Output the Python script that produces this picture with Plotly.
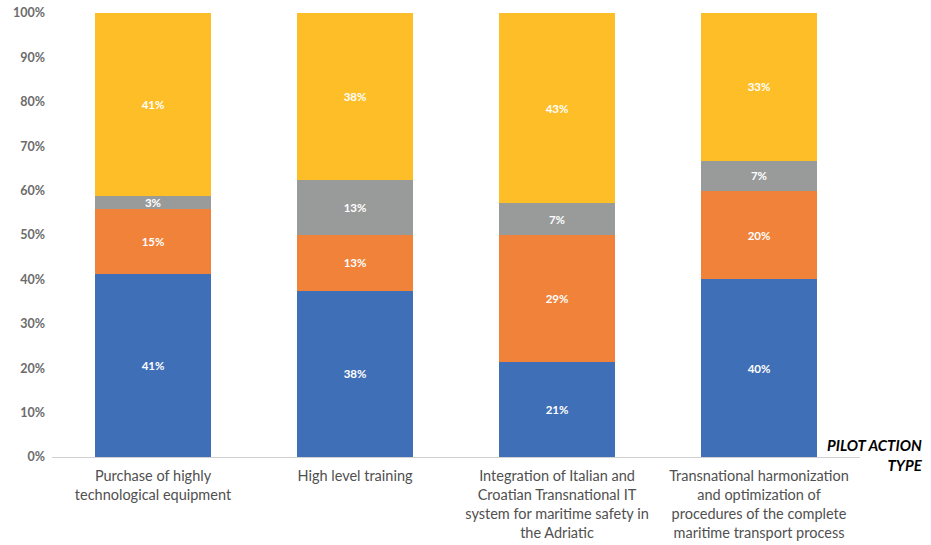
import plotly.graph_objects as go

categories = [
    "Purchase of highly<br>technological equipment",
    "High level training",
    "Integration of Italian and<br>Croatian Transnational IT<br>system for maritime safety in<br>the Adriatic",
    "Transnational harmonization<br>and optimization of<br>procedures of the complete<br>maritime transport process",
]
series_names = ["Series 1", "Series 2", "Series 3", "Series 4"]
blue_vals = [41.2, 37.5, 21.4, 40.0]
orange_vals = [14.7, 12.5, 28.6, 20.0]
grey_vals = [2.9, 12.5, 7.1, 6.7]
yellow_vals = [41.2, 37.5, 42.9, 33.3]
y_ticks = [0, 10, 20, 30, 40, 50, 60, 70, 80, 90, 100]
y_tick_labels = [f"{t}%" for t in y_ticks]

colors = ["#3F70B7", "#F0823A", "#999B9B", "#FDBE27"]
all_vals = [blue_vals, orange_vals, grey_vals, yellow_vals]

FONT = "Lato"

fig = go.Figure()
for name, vals, col in zip(series_names, all_vals, colors):
    fig.add_trace(go.Bar(
        x=categories, y=vals, name=name,
        marker=dict(color=col, line=dict(width=0)),
        text=[f"{int(v + 0.5)}%" for v in vals],
        textposition="inside", insidetextanchor="middle", textangle=0,
        textfont=dict(family=FONT, size=11.5, color="white", weight="bold"),
        hoverinfo="skip",
    ))

fig.update_layout(
    barmode="stack",
    bargap=0.43,
    width=931, height=545,
    margin=dict(l=52, r=71, t=13, b=88),
    plot_bgcolor="white", paper_bgcolor="white",
    showlegend=False,
    uniformtext=dict(minsize=11, mode="show"),
    font=dict(family=FONT),
)
fig.update_yaxes(
    range=[0, 100], tickmode="array", tickvals=y_ticks, ticktext=y_tick_labels,
    showgrid=False, zeroline=False, showline=False, automargin=False,
    tickfont=dict(family=FONT, size=12.5, color="#6B6B6B", weight="bold"),
    ticklabelstandoff=6,
)
fig.update_xaxes(
    showline=True, linecolor="#D0D0D0", linewidth=1, automargin=False,
    tickfont=dict(family=FONT, size=14.5, color="#505050"),
    ticks="", showgrid=False, ticklabelstandoff=6,
)
fig.add_annotation(
    x=1.081, y=0.005, xref="paper", yref="paper",
    text="<b><i>PILOT ACTION<br>TYPE</i></b>",
    showarrow=False, xanchor="right", yanchor="middle", align="right",
    font=dict(family=FONT, size=15, color="black"),
)
fig.write_html("out.html")
